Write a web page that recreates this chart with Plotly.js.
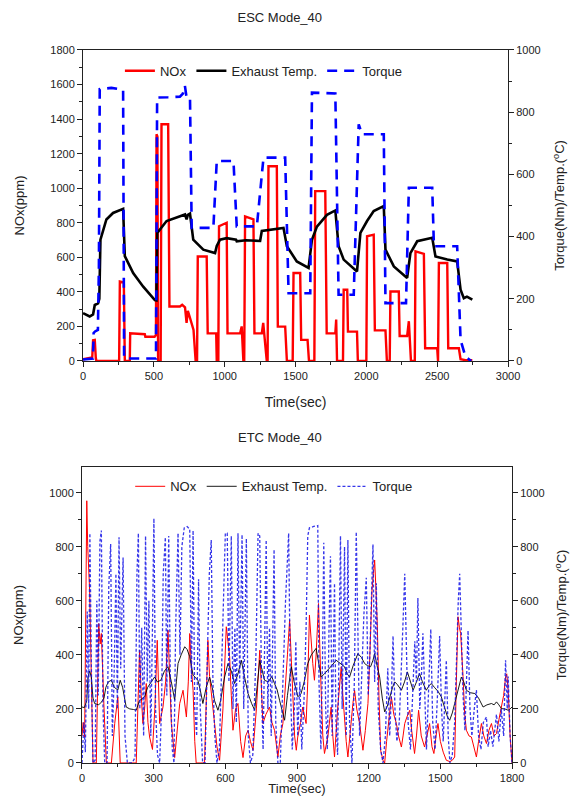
<!DOCTYPE html>
<html>
<head>
<meta charset="utf-8">
<script src="https://cdn.plot.ly/plotly-3.0.1.min.js"></script>
<style>html,body{margin:0;padding:0;background:#fff;}#chart{width:571px;height:796px;}</style>
</head>
<body>
<div id="chart"></div>
<script>
// ===== ESC Mode_40 (top) =====
const escNoxTime = [0,40,65,71,83,90,94,255,260,288,295,330,333,436,440,505,510,515,519,525,530,548,554,601,610,684,700,720,731,740,755,780,795,805,810,873,880,940,944,955,960,1014,1020,1109,1120,1132,1138,1144,1203,1210,1262,1272,1297,1303,1309,1368,1375,1427,1439,1480,1486,1533,1540,1585,1595,1633,1639,1710,1720,1781,1787,1793,1835,1840,1865,1870,1934,1940,2000,2005,2052,2060,2135,2145,2165,2170,2229,2235,2288,2300,2315,2342,2347,2406,2415,2500,2506,2512,2571,2578,2653,2665,2700,2748];
const escNox = [10,15,20,120,122,20,0,0,460,455,0,0,160,155,140,140,150,150,1312,1300,0,0,1370,1370,315,315,325,310,220,290,250,180,0,0,605,605,160,160,0,0,780,800,160,160,200,0,0,837,820,160,160,220,0,0,1127,1127,199,199,0,0,509,509,122,122,0,0,983,983,160,160,240,0,0,412,412,170,170,0,0,722,731,177,177,0,0,402,402,145,145,230,0,0,634,620,74,74,0,567,567,74,74,10,5,5];

const escTempTime = [0,47,71,83,106,115,123,140,165,212,283,295,354,425,507,518,524,590,684,720,731,740,755,778,849,932,944,967,1014,1060,1080,1085,1150,1250,1262,1415,1439,1509,1592,1616,1651,1722,1781,1804,1840,1934,1958,2005,2052,2123,2135,2194,2288,2311,2359,2465,2488,2571,2641,2665,2688,2710,2748];
const escTemp = [154,143,150,180,185,200,390,420,455,476,489,337,283,239,196,195,412,450,466,471,455,470,474,390,358,347,370,390,395,393,390,385,388,386,418,428,369,320,299,390,432,470,484,369,326,288,412,450,482,498,358,304,267,347,385,396,336,326,320,229,202,207,197];

const escTorqueTime = [0,70,75,85,105,112,118,200,283,290,300,515,519,523,600,684,705,719,730,755,767,920,944,1062,1085,1227,1274,1427,1451,1604,1616,1781,1804,1911,1946,1970,2123,2135,2280,2300,2465,2477,2641,2665,2700,2740];
const escTorque = [5,8,90,95,100,300,874,878,872,14,8,8,400,847,848,850,860,885,850,848,428,428,643,643,433,433,654,654,218,218,863,860,213,213,761,729,729,186,186,557,557,369,369,68,13,0];

// ===== ETC Mode_40 (bottom) =====
const etcNoxTime = [0,5,11,16,20,24,32,39,46,60,66,70,76,81,92,102,123,137,150,160,227,235,241,248,255,262,269,276,283,295,305,315,325,339,350,360,368,374,388,398,409,423,437,445,451,458,465,472,478,513,520,527,534,541,548,555,565,576,590,597,604,611,618,625,632,643,653,664,674,685,695,705,716,730,738,744,750,757,770,785,795,806,820,830,841,850,860,869,876,883,890,897,903,915,924,938,945,952,959,966,973,980,990,995,1001,1008,1015,1029,1043,1050,1057,1070,1078,1085,1092,1099,1106,1113,1125,1134,1141,1150,1162,1170,1176,1186,1197,1205,1214,1220,1225,1230,1236,1243,1250,1260,1267,1275,1283,1290,1295,1305,1316,1325,1337,1344,1351,1360,1372,1380,1392,1400,1409,1420,1434,1444,1455,1465,1473,1482,1490,1500,1512,1525,1540,1550,1560,1567,1574,1580,1585,1595,1602,1609,1620,1630,1640,1651,1660,1672,1682,1693,1703,1714,1725,1735,1745,1756,1765,1773,1778,1784,1792,1800];
const etcNox = [100,150,96,500,970,800,640,318,0,0,300,516,440,479,207,0,0,146,245,0,0,200,417,250,146,200,294,150,96,50,200,454,146,207,300,491,250,146,20,120,220,269,170,300,479,350,269,80,0,0,250,454,320,269,200,146,60,10,200,350,504,450,393,250,121,200,220,80,20,100,121,80,47,200,350,417,300,146,180,207,150,121,22,100,146,250,400,529,400,269,100,47,96,150,207,146,300,547,450,368,306,400,590,400,269,100,35,96,207,100,22,200,300,356,250,146,80,22,150,220,269,200,146,80,47,120,220,400,640,700,751,650,516,250,47,10,0,80,146,200,245,180,146,100,59,100,146,170,195,120,35,100,195,100,59,100,146,60,35,100,146,80,40,10,5,10,22,300,541,500,479,320,180,121,100,96,60,22,80,146,100,72,120,146,100,109,160,207,250,318,330,269,100,0];

const etcTempTime = [0,10,20,25,32,39,46,53,70,81,92,100,110,123,135,150,160,170,185,200,215,227,240,255,262,275,290,304,315,330,345,360,374,388,395,402,415,430,440,451,465,475,485,495,506,520,534,545,555,569,580,597,611,625,639,653,667,680,695,710,723,735,744,755,764,780,794,806,817,827,840,848,860,870,876,888,904,917,930,945,960,980,990,1001,1015,1029,1045,1064,1080,1099,1110,1120,1135,1155,1170,1183,1195,1208,1218,1225,1235,1246,1257,1267,1278,1288,1300,1309,1320,1337,1350,1362,1372,1386,1400,1413,1425,1441,1452,1462,1475,1490,1504,1520,1530,1539,1550,1560,1575,1588,1598,1609,1625,1644,1660,1679,1695,1714,1725,1735,1745,1756,1770,1784,1792,1800];
const etcTemp = [207,205,230,318,340,318,240,220,215,225,240,280,300,306,280,270,306,280,207,200,198,195,230,240,245,280,300,318,300,306,340,356,300,232,300,368,400,430,420,393,325,315,306,270,220,280,318,280,230,195,230,318,368,340,294,330,380,320,257,220,195,300,380,340,306,300,320,294,270,232,190,158,250,330,356,300,245,257,300,368,400,424,380,318,330,343,360,380,370,356,330,318,360,405,390,368,360,356,380,405,360,318,240,189,210,245,280,300,290,269,300,337,310,269,300,331,300,269,285,294,280,265,245,200,170,158,185,220,270,318,300,269,260,257,240,207,215,220,215,226,215,201,200,195,200,207];

const etcTorqueTime = [0,8,14,22,28,33,40,46,55,62,68,75,81,88,95,105,112,120,127,134,142,148,155,162,172,180,190,210,222,230,236,242,250,258,266,273,280,288,295,301,308,316,325,333,340,349,355,363,370,378,385,392,402,410,418,428,440,451,458,465,472,480,488,495,505,515,525,533,541,548,556,565,575,590,600,608,615,625,632,640,646,653,660,670,677,688,696,705,715,728,737,744,752,758,771,778,785,792,804,811,820,830,840,852,865,872,880,889,895,903,912,920,930,938,945,952,970,987,992,1000,1007,1012,1020,1027,1034,1040,1047,1057,1063,1070,1082,1089,1099,1106,1113,1120,1130,1140,1148,1155,1162,1170,1180,1190,1198,1205,1212,1218,1225,1232,1240,1250,1260,1270,1280,1288,1295,1302,1310,1318,1328,1335,1343,1351,1358,1365,1375,1385,1393,1400,1406,1414,1420,1427,1435,1442,1452,1460,1468,1478,1488,1497,1505,1512,1525,1533,1540,1550,1560,1568,1575,1581,1588,1595,1603,1610,1616,1624,1632,1642,1651,1660,1670,1680,1693,1700,1710,1720,1735,1745,1755,1765,1773,1780,1784,1792,1800];
const etcTorque = [0,150,40,560,200,850,300,0,10,600,250,820,860,200,0,0,650,810,100,300,700,200,835,350,760,100,0,0,20,700,850,200,500,100,840,300,600,100,500,905,200,30,0,200,700,835,250,840,300,50,0,500,850,400,800,870,875,865,300,860,200,100,680,200,0,0,400,700,825,300,100,0,50,500,850,850,300,840,200,500,150,850,300,845,200,830,100,0,30,400,850,840,250,50,825,200,500,100,790,150,0,0,300,600,850,300,50,200,450,100,300,50,250,500,840,870,875,878,300,50,400,815,200,50,500,765,100,665,150,30,840,200,800,100,825,150,0,300,855,400,100,300,550,685,250,400,650,808,300,665,200,50,0,100,350,100,250,470,200,80,150,350,500,700,400,150,50,250,450,300,610,200,300,480,200,50,300,495,150,50,250,470,200,80,380,100,0,30,150,400,600,700,500,250,120,300,490,200,100,200,270,100,50,150,170,60,120,60,180,80,200,100,380,200,320,100,0];

const FONT = 'Liberation Sans, Arial, sans-serif';
const red = '#ff0000', blue = '#0000ff', blk = '#000000';

const traces = [
  {x: escNoxTime, y: escNox, name: 'NOx', type: 'scatter', mode: 'lines', xaxis: 'x', yaxis: 'y',
   line: {color: red, width: 2.4}, legend: 'legend'},
  {x: escTempTime, y: escTemp, name: 'Exhaust Temp.', type: 'scatter', mode: 'lines', xaxis: 'x', yaxis: 'y2',
   line: {color: blk, width: 2.6}, legend: 'legend'},
  {x: escTorqueTime, y: escTorque, name: 'Torque', type: 'scatter', mode: 'lines', xaxis: 'x', yaxis: 'y2',
   line: {color: blue, width: 2.6, dash: '10px,7px'}, legend: 'legend'},
  {x: etcNoxTime, y: etcNox, name: 'NOx', type: 'scatter', mode: 'lines', xaxis: 'x2', yaxis: 'y3',
   line: {color: red, width: 1}, legend: 'legend2'},
  {x: etcTempTime, y: etcTemp, name: 'Exhaust Temp.', type: 'scatter', mode: 'lines', xaxis: 'x2', yaxis: 'y4',
   line: {color: blk, width: 0.9}, legend: 'legend2'},
  {x: etcTorqueTime, y: etcTorque, name: 'Torque', type: 'scatter', mode: 'lines', xaxis: 'x2', yaxis: 'y4',
   line: {color: 'rgba(20,20,230,0.85)', width: 1.3, dash: '3px,2px'}, legend: 'legend2'}
];

const axBase = {
  showgrid: false, zeroline: false, showline: true, linecolor: '#222', linewidth: 1,
  ticks: 'outside', ticklen: 5, tickwidth: 1, tickcolor: '#222',
  tickfont: {family: FONT, size: 11, color: '#222'}, automargin: false, fixedrange: true
};
function ax(extra) { return Object.assign({}, axBase, extra); }

const layout = {
  width: 571, height: 796,
  margin: {l: 0, r: 0, t: 0, b: 0},
  paper_bgcolor: '#fff', plot_bgcolor: '#fff',
  font: {family: FONT, color: '#222'},
  title: {text: 'ESC Mode_40', font: {family: FONT, size: 13, color: '#222'}, x: 0.49, xanchor: 'center', y: 0.978, yanchor: 'middle', yref: 'container'},
  xaxis: ax({domain: [0.1454, 0.8897], anchor: 'y', range: [0, 3000], dtick: 500, tick0: 0, mirror: true,
    minor: {dtick: 250, ticks: 'outside', ticklen: 3, tickcolor: '#222'},
    title: {text: 'Time(sec)', font: {family: FONT, size: 14, color: '#222'}, standoff: 16}}),
  yaxis: ax({domain: [0.5465, 0.9372], anchor: 'x', range: [0, 1800], dtick: 200, tick0: 0,
    minor: {dtick: 100, ticks: 'outside', ticklen: 3, tickcolor: '#222'},
    title: {text: 'NOx(ppm)', font: {family: FONT, size: 13, color: '#222'}, standoff: 22}}),
  yaxis2: ax({overlaying: 'y', side: 'right', anchor: 'x', range: [0, 1000], dtick: 200, tick0: 0,
    minor: {dtick: 100, ticks: 'outside', ticklen: 3, tickcolor: '#222'},
    title: {text: 'Torque(Nm)/Temp.(<sup>o</sup>C)', font: {family: FONT, size: 13, color: '#222'}, standoff: 15}}),
  xaxis2: ax({domain: [0.1436, 0.8967], anchor: 'y3', range: [0, 1800], dtick: 300, tick0: 0, mirror: true,
    minor: {dtick: 150, ticks: 'outside', ticklen: 3, tickcolor: '#222'},
    title: {text: 'Time(sec)', font: {family: FONT, size: 13, color: '#222'}, standoff: 0}}),
  yaxis3: ax({domain: [0.0415, 0.4133], anchor: 'x2', range: [0, 1095], dtick: 200, tick0: 0,
    minor: {dtick: 100, ticks: 'outside', ticklen: 3, tickcolor: '#222'},
    title: {text: 'NOx(ppm)', font: {family: FONT, size: 13, color: '#222'}, standoff: 22}}),
  yaxis4: ax({overlaying: 'y3', side: 'right', anchor: 'x2', range: [0, 1095], dtick: 200, tick0: 0,
    minor: {dtick: 100, ticks: 'outside', ticklen: 3, tickcolor: '#222'},
    title: {text: 'Torque(Nm)/Temp.(<sup>o</sup>C)', font: {family: FONT, size: 13, color: '#222'}, standoff: 13}}),
  legend: {orientation: 'h', x: 0.21, y: 0.911, xanchor: 'left', yanchor: 'middle', bgcolor: 'rgba(0,0,0,0)',
    font: {family: FONT, size: 13, color: '#222'}, itemwidth: 30, tracegroupgap: 0, traceorder: 'normal'},
  legend2: {orientation: 'h', x: 0.228, y: 0.389, xanchor: 'left', yanchor: 'middle', bgcolor: 'rgba(0,0,0,0)',
    font: {family: FONT, size: 13, color: '#222'}, itemwidth: 30, tracegroupgap: 0, traceorder: 'normal'},
  annotations: [
    {text: 'ETC Mode_40', xref: 'paper', yref: 'paper', x: 0.49, y: 1 - 437/796, xanchor: 'center', yanchor: 'middle',
     showarrow: false, font: {family: FONT, size: 13, color: '#222'}}
  ]
};

Plotly.newPlot('chart', traces, layout, {staticPlot: true, displayModeBar: false});
</script>
</body>
</html>
